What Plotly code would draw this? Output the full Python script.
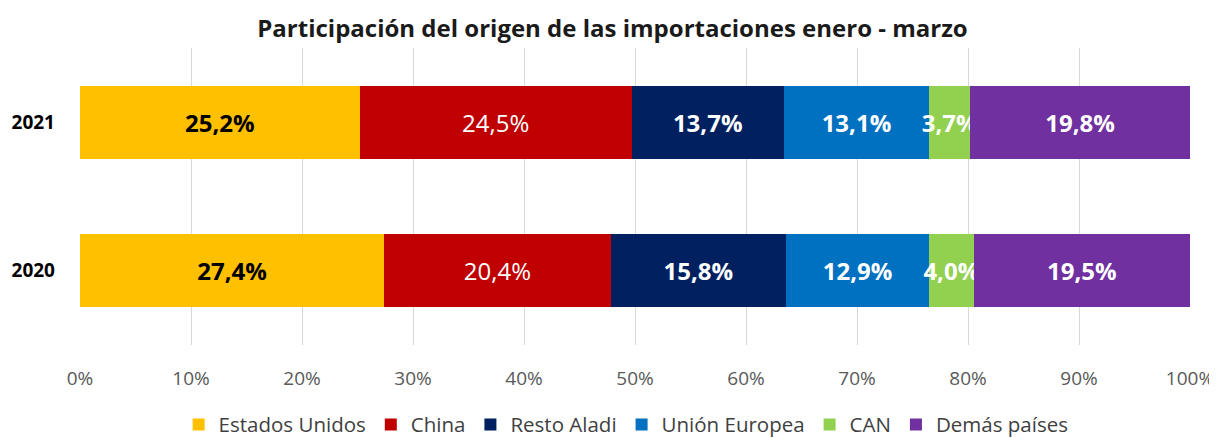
import plotly.graph_objects as go

years = ["2020", "2021"]
series_names = ["Estados Unidos", "China", "Resto Aladi", "Unión Europea", "CAN", "Demás países"]
estados_unidos = [27.4, 25.2]
china = [20.4, 24.5]
resto_aladi = [15.8, 13.7]
union_europea = [12.9, 13.1]
can = [4.0, 3.7]
demas_paises = [19.5, 19.8]
x_ticks = [0, 10, 20, 30, 40, 50, 60, 70, 80, 90, 100]
x_tick_labels = [f"{v}%" for v in x_ticks]

values = [estados_unidos, china, resto_aladi, union_europea, can, demas_paises]
colors = ["#FFC000", "#C00000", "#002060", "#0070C0", "#92D050", "#7030A0"]
text_colors = ["#000000", "#FFFFFF", "#FFFFFF", "#FFFFFF", "#FFFFFF", "#FFFFFF"]
bold = [True, False, True, True, True, True]
sizes = [24, 24, 24, 24, 24, 24]

FONT = "Open Sans"

fig = go.Figure()
for name, vals, col, tc, b, sz in zip(series_names, values, colors, text_colors, bold, sizes):
    labels = [(f"<b>{v:.1f}%</b>" if b else f"{v:.1f}%").replace(".", ",") for v in vals]
    fig.add_trace(go.Bar(
        name=name, y=years, x=vals, orientation="h",
        marker=dict(color=col, line=dict(width=0)),
        text=labels, textposition="inside", insidetextanchor="middle",
        textangle=0, constraintext="none", cliponaxis=False,
        textfont=dict(color=tc, size=sz, family=FONT),
        hoverinfo="skip",
    ))

# page body adds an 8px offset; figure sized to fill the remaining window
fig.update_layout(
    barmode="stack",
    bargap=0.51,
    width=1209, height=430,
    margin=dict(l=72, r=27, t=40, b=93, autoexpand=False),
    paper_bgcolor="white", plot_bgcolor="white",
    title=dict(text="<b>Participación del origen de las importaciones enero - marzo</b>",
               x=0.5, xanchor="center", y=0.953, yanchor="middle",
               font=dict(family=FONT, size=24, color="#1a1a1a")),
    xaxis=dict(range=[0, 100], tickvals=x_ticks, ticktext=x_tick_labels,
               showgrid=True, gridcolor="#D9D9D9", gridwidth=1,
               zeroline=False, showline=False, ticks="",
               automargin=False, ticklabelstandoff=20,
               tickfont=dict(family=FONT, size=19, color="#595959")),
    yaxis=dict(categoryorder="array", categoryarray=years,
               tickvals=years, ticktext=[f"<b>{y}</b>" for y in years],
               showgrid=False, zeroline=False, showline=False, ticks="",
               automargin=False, ticklabelstandoff=24,
               tickfont=dict(family=FONT, size=19, color="#000000")),
    legend=dict(orientation="h", x=0.492, xanchor="center", y=-0.268, yanchor="middle",
                font=dict(family=FONT, size=20.5, color="#404040"),
                itemwidth=30, traceorder="normal"),
    showlegend=True,
)

fig.write_html("out.html")
